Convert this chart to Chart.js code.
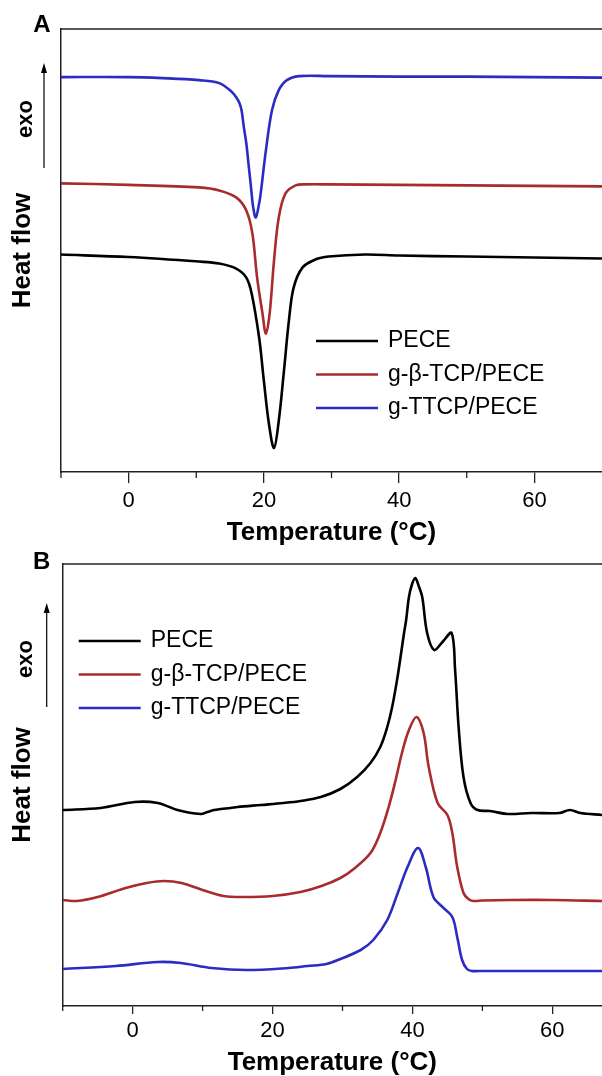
<!DOCTYPE html>
<html>
<head>
<meta charset="utf-8">
<title>DSC curves</title>
<script src="https://cdn.jsdelivr.net/npm/chart.js@4.4.1/dist/chart.umd.min.js"></script>
<style>
  html, body { margin: 0; padding: 0; background: #fff; width: 602px; height: 1076px; overflow: hidden; }
  .panel { position: absolute; left: 0; width: 602px; }
  #boxA { top: 0; height: 552px; }
  #boxB { top: 552px; height: 528px; }
</style>
</head>
<body>
<div class="panel" id="boxA"><canvas id="chartA"></canvas></div>
<div class="panel" id="boxB"><canvas id="chartB"></canvas></div>
<script>
// ====== DADOS ======
const seriesNames = ['PECE', 'g-\u03B2-TCP/PECE', 'g-TTCP/PECE'];
const xMajorTicks = [0, 20, 40, 60];
const xMinorTicks = [-10, 10, 30, 50];

// Painel A (resfriamento)
const aPeceT  = [-10, 0, 10.4, 13.4, 15.9, 17.4, 18.2, 19.3, 20.0, 20.75, 21.5, 22.2, 22.97, 23.7, 24.4, 25.7, 27.6, 29.6, 35, 40, 50, 60, 70];
const aPeceHF = [2.17, 2.145, 2.10, 2.08, 2.03, 1.94, 1.78, 1.34, 0.91, 0.48, 0.24, 0.51, 1.01, 1.51, 1.84, 2.04, 2.12, 2.15, 2.17, 2.16, 2.15, 2.14, 2.13];
const aTcpT   = [-10, 0, 10.4, 13.4, 15.9, 17.4, 18.3, 19.0, 19.8, 20.3, 20.85, 21.5, 22.2, 23.2, 24.7, 26.2, 29.6, 40, 50, 60, 70];
const aTcpHF  = [2.88, 2.865, 2.84, 2.81, 2.74, 2.61, 2.38, 1.94, 1.58, 1.38, 1.58, 2.11, 2.54, 2.78, 2.86, 2.87, 2.87, 2.865, 2.86, 2.855, 2.85];
const aTtcpT  = [-10, 0, 5, 10.4, 13.4, 15.3, 16.0, 16.4, 16.7, 17.0, 17.4, 17.75, 18.1, 18.4, 18.8, 19.3, 19.55, 20.3, 21.2, 22.2, 23.4, 25.2, 29.6, 40, 50, 60, 70];
const aTtcpHF = [3.94, 3.94, 3.93, 3.91, 3.88, 3.79, 3.73, 3.68, 3.61, 3.46, 3.28, 3.06, 2.84, 2.65, 2.54, 2.68, 2.79, 3.21, 3.61, 3.81, 3.91, 3.95, 3.95, 3.945, 3.945, 3.94, 3.935];

// Painel B (aquecimento)
const bPeceT  = [-10, -4.6, 0.3, 3.6, 6.4, 9.7, 10.7, 11.6, 12.6, 14, 15, 18.3, 21.6, 24.0, 26.9, 29.7, 32.1, 34.0, 35.4, 36.4, 37.1, 37.8, 38.3, 38.8, 39.1, 39.5, 39.95, 40.4, 40.9, 41.4, 42.1, 43.1, 44.3, 45.6, 46.1, 46.6, 47.3, 48.3, 49.3, 51.1, 53.6, 57, 61, 62.5, 64, 67.1];
const bPeceHF = [1.96, 1.98, 2.04, 2.03, 1.96, 1.92, 1.94, 1.96, 1.97, 1.98, 1.99, 2.01, 2.03, 2.05, 2.09, 2.17, 2.29, 2.43, 2.59, 2.79, 2.99, 3.26, 3.49, 3.73, 3.86, 4.09, 4.22, 4.28, 4.20, 4.09, 3.73, 3.56, 3.64, 3.73, 3.36, 2.79, 2.29, 2.03, 1.96, 1.95, 1.92, 1.93, 1.93, 1.96, 1.93, 1.91];
const bTcpT   = [-10, -8, -5, -1, 2, 4.5, 7, 10, 13, 16, 20, 24, 27, 29.7, 31.6, 34.0, 35.4, 36.6, 37.6, 38.5, 39.5, 40.6, 41.6, 42.3, 43.6, 45, 45.7, 46.4, 47.3, 48.0, 48.7, 50, 54, 60, 67.1];
const bTcpHF  = [1.06, 1.05, 1.09, 1.18, 1.23, 1.25, 1.23, 1.16, 1.10, 1.09, 1.10, 1.14, 1.20, 1.28, 1.37, 1.53, 1.73, 1.99, 2.26, 2.53, 2.76, 2.89, 2.73, 2.40, 2.03, 1.91, 1.73, 1.39, 1.13, 1.07, 1.05, 1.055, 1.06, 1.06, 1.05];
const bTtcpT  = [-10, -2.4, 3.6, 6.9, 11.3, 16.3, 22.3, 25, 27.7, 29.7, 32.6, 34.4, 36.4, 37.9, 39.3, 40.8, 41.9, 43, 44.3, 45.7, 46.4, 47.1, 47.8, 48.5, 49.5, 54, 60, 67.1];
const bTtcpHF = [0.37, 0.40, 0.44, 0.43, 0.38, 0.36, 0.38, 0.40, 0.42, 0.47, 0.56, 0.66, 0.86, 1.13, 1.39, 1.58, 1.39, 1.09, 0.99, 0.89, 0.69, 0.46, 0.37, 0.35, 0.35, 0.35, 0.35, 0.35];

// ====== ESTILO ======
const FONT = '"Liberation Sans", Arial, Helvetica, sans-serif';
const LINE_COLORS = ['#000000', '#a82c2e', '#2b2cc2'];
const AXIS_COLOR = '#222222';

Chart.defaults.font.family = FONT;
Chart.defaults.color = '#000';

const toPoints = (xs, ys) => xs.map((x, i) => ({ x: x, y: ys[i] }));

// desenha moldura superior, ticks menores, letra do painel, seta "exo" e legenda
const panelDeco = {
  id: 'panelDeco',
  afterDraw(chart, args, opts) {
    const { ctx, chartArea: area, scales: { x } } = chart;
    ctx.save();
    ctx.strokeStyle = AXIS_COLOR;
    ctx.lineWidth = 1.5;
    ctx.beginPath();
    ctx.moveTo(area.left, area.top);
    ctx.lineTo(area.right, area.top);
    ctx.stroke();

    ctx.lineWidth = 1.3;
    xMinorTicks.forEach(v => {
      const px = x.getPixelForValue(v);
      ctx.beginPath();
      ctx.moveTo(px, area.bottom);
      ctx.lineTo(px, area.bottom + opts.minorLen);
      ctx.stroke();
    });

    // letra do painel
    ctx.fillStyle = '#000';
    ctx.textAlign = 'center';
    ctx.textBaseline = 'middle';
    ctx.font = 'bold 24px ' + FONT;
    ctx.fillText(opts.letter, area.left + opts.letterDx, area.top + opts.letterDy);

    // seta exo
    const ax = area.left + opts.arrowDx;
    const y1 = area.top + opts.arrowTop;
    const y2 = area.top + opts.arrowBottom;
    ctx.strokeStyle = '#000';
    ctx.lineWidth = 1.2;
    ctx.beginPath();
    ctx.moveTo(ax, y2);
    ctx.lineTo(ax, y1 + 8);
    ctx.stroke();
    ctx.beginPath();
    ctx.moveTo(ax, y1);
    ctx.lineTo(ax - 3, y1 + 10);
    ctx.lineTo(ax + 3, y1 + 10);
    ctx.closePath();
    ctx.fill();

    ctx.save();
    ctx.translate(area.left + opts.exoDx, area.top + opts.exoDy);
    ctx.rotate(-Math.PI / 2);
    ctx.font = 'bold 22px ' + FONT;
    ctx.fillText('exo', 0, 0);
    ctx.restore();

    // legenda
    ctx.font = '23px ' + FONT;
    ctx.textAlign = 'left';
    chart.data.datasets.forEach((ds, i) => {
      const ly = area.top + opts.legendTop + i * opts.legendGap;
      const lx = area.left + opts.legendLeft;
      ctx.strokeStyle = ds.borderColor;
      ctx.lineWidth = 2.6;
      ctx.beginPath();
      ctx.moveTo(lx, ly);
      ctx.lineTo(lx + 62, ly);
      ctx.stroke();
      ctx.fillStyle = '#000';
      ctx.fillText(ds.label, lx + 72, ly);
    });
    ctx.restore();
  }
};

function makePanel(canvasId, series, cfg) {
  return new Chart(document.getElementById(canvasId), {
    type: 'line',
    data: {
      datasets: series.map((pts, i) => ({
        label: seriesNames[i],
        data: pts,
        borderColor: LINE_COLORS[i],
        borderWidth: 2.6,
        pointRadius: 0,
        fill: false,
        tension: 0.35
      }))
    },
    options: {
      responsive: true,
      maintainAspectRatio: false,
      animation: false,
      parsing: false,
      layout: { padding: { top: cfg.padTop, left: 0, right: 0, bottom: 0 } },
      plugins: {
        legend: { display: false },
        tooltip: { enabled: false },
        panelDeco: cfg.deco
      },
      scales: {
        x: {
          type: 'linear',
          min: -10,
          max: cfg.xMax,
          afterBuildTicks: s => { s.ticks = xMajorTicks.map(v => ({ value: v })); },
          ticks: { color: '#000', font: { size: 22 }, padding: cfg.tickPad, maxRotation: 0, autoSkip: false },
          grid: { drawOnChartArea: false, drawTicks: true, tickLength: cfg.tickLen, color: AXIS_COLOR, lineWidth: 1.3 },
          border: { display: true, color: AXIS_COLOR, width: 1.5 },
          title: {
            display: true,
            text: 'Temperature (\u00B0C)',
            color: '#000',
            font: { size: 26, weight: 'bold', lineHeight: 1.0 },
            padding: cfg.xTitlePad
          }
        },
        y: {
          type: 'linear',
          min: 0,
          max: 4.42,
          ticks: { display: false },
          grid: { display: false, drawTicks: false },
          border: { display: true, color: AXIS_COLOR, width: 1.5 },
          title: {
            display: true,
            text: 'Heat flow',
            color: '#000',
            font: { size: 26, weight: 'bold' },
            padding: cfg.yTitlePad
          }
        }
      }
    },
    plugins: [panelDeco]
  });
}

// ====== PAINEL A ======
makePanel('chartA',
  [toPoints(aPeceT, aPeceHF), toPoints(aTcpT, aTcpHF), toPoints(aTtcpT, aTtcpHF)],
  {
    padTop: 29, xMax: 70, tickLen: 11, tickPad: 5,
    xTitlePad: { top: 0, bottom: 6.5 },
    yTitlePad: { top: 7.4, bottom: 22.4 },
    deco: {
      letter: 'A', letterDx: -19, letterDy: -4, minorLen: 6,
      arrowDx: -17, arrowTop: 34, arrowBottom: 139,
      exoDx: -35, exoDy: 90,
      legendLeft: 255, legendTop: 312, legendGap: 33.5
    }
  });

// ====== PAINEL B ======
makePanel('chartB',
  [toPoints(bPeceT, bPeceHF), toPoints(bTcpT, bTcpHF), toPoints(bTtcpT, bTtcpHF)],
  {
    padTop: 12, xMax: 67.1, tickLen: 8, tickPad: 4,
    xTitlePad: { top: 1.6, bottom: 4 },
    yTitlePad: { top: 7.4, bottom: 24.1 },
    deco: {
      letter: 'B', letterDx: -21, letterDy: -2, minorLen: 5,
      arrowDx: -16, arrowTop: 39, arrowBottom: 143,
      exoDx: -37, exoDy: 95,
      legendLeft: 16, legendTop: 77, legendGap: 33.5
    }
  });
</script>
</body>
</html>
